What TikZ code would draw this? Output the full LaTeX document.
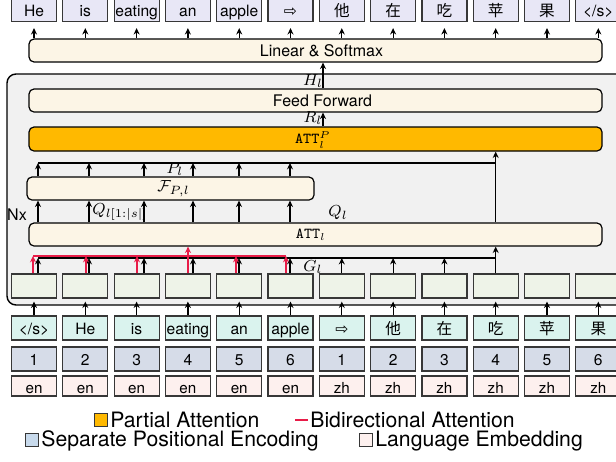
\documentclass[tikz,border=0pt]{standalone}
\usepackage[no-math]{fontspec}
\setmainfont{TeX Gyre Heros}
\newfontfamily\cjkfont{Noto Sans CJK SC}
\newfontfamily\symfont{DejaVu Sans}
\usetikzlibrary{arrows.meta}

\definecolor{outlav}{RGB}{232,231,246}
\definecolor{cream}{RGB}{252,245,230}
\definecolor{attorange}{RGB}{255,185,0}
\definecolor{layerbg}{RGB}{241,241,241}
\definecolor{hidgreen}{RGB}{238,243,232}
\definecolor{tokcyan}{RGB}{218,243,238}
\definecolor{posblue}{RGB}{214,220,232}
\definecolor{langpink}{RGB}{253,240,238}
\definecolor{keyblue}{RGB}{200,218,236}
\definecolor{attred}{RGB}{232,28,72}
\definecolor{cellline}{RGB}{55,55,55}

\newcommand{\eostok}{</s>}

\begin{document}
\begin{tikzpicture}[x=0.5pt,y=-0.5pt,
  arr/.style={-{Stealth[length=3.2pt,width=3pt]}, line width=0.6pt},
  redarr/.style={-{Stealth[length=3.2pt,width=3pt]}, line width=0.7pt, draw=attred, fill=attred},
  cell/.style={draw=cellline, line width=0.6pt, minimum width=22.5pt, minimum height=12pt,
    inner sep=0pt, text height=8.4pt, text depth=1.6pt, font=\fontsize{7.8}{9}\selectfont},
  wide/.style={draw=black, line width=0.6pt, rounded corners=2.5pt, minimum width=286.5pt,
    minimum height=11.5pt, inner sep=0pt},
  boxtext/.style={inner sep=0pt, font=\fontsize{8}{9}\selectfont},
  tttext/.style={inner sep=0pt, font=\fontsize{7.6}{8}\selectfont},
  lbl/.style={inner sep=0pt, font=\fontsize{8.5}{10}\selectfont},
  keybox/.style={draw=cellline, line width=0.5pt, minimum size=6.5pt, inner sep=0pt},
  keytext/.style={anchor=base west, inner sep=0pt, font=\fontsize{10.6}{12}\selectfont},
]
\useasboundingbox (0,0) rectangle (616,461);
\clip (0,0) rectangle (616,461);

% encoder-decoder layer frame
\node[draw=black, fill=layerbg, line width=0.7pt, rounded corners=4.5pt,
  minimum width=316.5pt, minimum height=115.5pt, inner sep=0pt] (layer) at (323.5,189.5) {};

% wide blocks
\node[wide, fill=cream] (ls) at (315.5,50.5) {};
\node[boxtext] (lstext) at (321.5,50.5) {Linear \& Softmax};
\node[wide, fill=cream] (ff) at (315.5,100.5) {};
\node[boxtext] (fftext) at (322.5,100.5) {Feed Forward};
\node[wide, fill=attorange, minimum height=12pt] (attp) at (315.5,139) {};
\node[tttext] (attptext) at (313,140) {\texttt{ATT}$_l^P$};
\node[wide, fill=cream, minimum width=143.5pt] (fp) at (170.5,188.5) {};
\node[lbl] (fptext) at (173.5,188.5) {$\mathcal{F}_{P,l}$};
\node[wide, fill=cream] (att) at (315.5,234.5) {};
\node[tttext] (atttext) at (311,234.5) {\texttt{ATT}$_l$};

% output tokens
\foreach \i/\w in {0/He,1/is,2/eating,3/an,4/apple,5/{\symfont ⇨},6/{\cjkfont 他},
  7/{\cjkfont 在},8/{\cjkfont 吃},9/{\cjkfont 苹},10/{\cjkfont 果},11/\eostok}
  \node[cell, fill=outlav] (o\i) at ({34+51.3*\i},9.5) {\w};

% hidden states
\foreach \i in {0,...,11}
  \node[cell, fill=hidgreen] (g\i) at ({34+51.3*\i},286) {};

% input tokens
\foreach \i/\w in {0/\eostok,1/He,2/is,3/eating,4/an,5/apple,6/{\symfont ⇨},7/{\cjkfont 他},
  8/{\cjkfont 在},9/{\cjkfont 吃},10/{\cjkfont 苹},11/{\cjkfont 果}}
  \node[cell, fill=tokcyan] (t\i) at ({34+51.3*\i},328) {\w};

% positions
\foreach \i in {0,...,11} {
  \pgfmathtruncatemacro{\posnum}{mod(\i,6)+1}
  \node[cell, fill=posblue, text height=8.1pt] (p\i) at ({34+51.3*\i},359) {\posnum};
}

% language tags
\foreach \i in {0,...,11}
  \node[cell, fill=langpink, minimum height=10pt, text height=8.2pt, text depth=1.2pt,
    font=\fontsize{7.6}{9}\selectfont] (e\i) at ({34+51.3*\i},386)
    {\ifnum\i<6 en\else zh\fi};

% output arrows
\foreach \i in {0,...,11}
  \draw[arr] (ls.north -| o\i) -- ([yshift=-3pt]o\i.south);

% input arrows
\foreach \i in {0,...,11}
  \draw[arr] (t\i.north) -- ([yshift=-1.5pt]g\i.south);

% bus coordinates
\foreach \i/\ax/\rx in {0/38/33,1/89/86,2/144/137,3/193/188,4/239/236,5/290/286} {
  \coordinate (pb\i) at (\ax,163);
  \coordinate (gb\i) at (\ax,258);
  \coordinate (rb\i) at (\rx,256);
}
\foreach \i in {6,7,8}
  \coordinate (gb\i) at ({34+51.3*\i},258);
\coordinate (pbR) at (495.7,163);
\coordinate (gbR) at (495.7,258);
\coordinate (hx) at (323,0);

% H_l and R_l
\draw[arr] (ff.north -| hx) -- (ls.south -| hx);
\draw[arr] (attp.north -| hx) -- (ff.south -| hx);

% partial-attention inputs
\draw[line width=0.6pt] (pb0) -- (pbR);
\foreach \i in {0,...,5} {
  \draw[arr] (fp.north -| pb\i) -- (pb\i);
  \draw[arr] (att.north -| pb\i) -- (fp.south -| pb\i);
}
\draw[arr] (att.north -| pbR) -- (attp.south -| pbR);

% hidden states into ATT_l
\draw[line width=0.6pt] (gb0) -- (gbR);
\foreach \i in {0,...,8}
  \draw[arr] (g\i.north -| gb\i) -- (gb\i);
\draw[arr] (g9.north) -- (att.south -| g9);

% bidirectional attention over the source
\draw[attred, line width=0.8pt] (rb0) -- (rb5);
\foreach \i in {0,1,2,4,5}
  \draw[redarr] (g\i.north -| rb\i) -- (rb\i);
\draw[redarr] (g3.north -| rb3) -- (att.south -| rb3);

% labels
\node[lbl] (hl) at (313,81) {$H_l$};
\node[lbl] (rl) at (313,118) {$R_l$};
\node[lbl] (pl) at (175,169) {$P_l$};
\node[lbl, anchor=west] (qs) at (92,212) {$Q_{l[1:|s|]}$};
\node[lbl] (ql) at (338,213) {$Q_l$};
\node[lbl, font=\fontsize{8}{9}\selectfont] (nx) at (17,215) {Nx};
\node[lbl] (gl) at (313,267) {$G_l$};

% key
\node[keybox, fill=attorange] (k1) at (101.3,420) {};
\node[keytext] (k1t) at (110,427) {Partial Attention};
\coordinate (k2a) at (295,420);
\coordinate (k2b) at (308,420);
\draw[attred, line width=1pt] (k2a) -- (k2b);
\node[keytext] (k2t) at (310,427) {Bidirectional Attention};
\node[keybox, fill=keyblue] (k3) at (31.5,439.5) {};
\node[keytext] (k3t) at (41,446.5) {Separate Positional Encoding};
\node[keybox, fill=langpink] (k4) at (365.5,439.5) {};
\node[keytext] (k4t) at (375,446.5) {Language Embedding};
\end{tikzpicture}
\end{document}
